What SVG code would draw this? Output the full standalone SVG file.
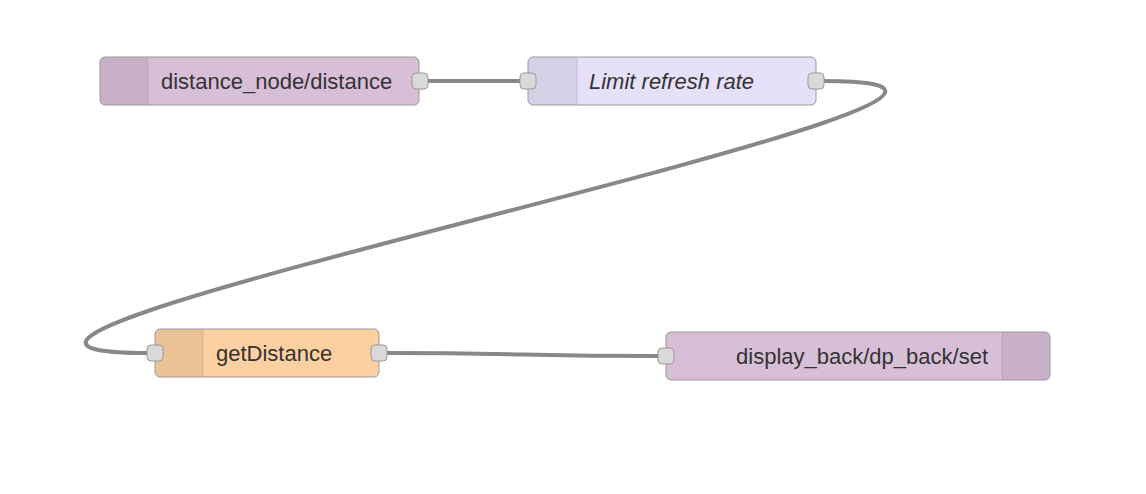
<svg xmlns="http://www.w3.org/2000/svg" width="1146" height="494" viewBox="0 0 1146 494">
<style>
.node{stroke:#999;stroke-width:1}
.icon{stroke:none;fill:#000;fill-opacity:0.07}
.div{stroke:#000;stroke-opacity:0.1;stroke-width:1}
.port{fill:#d9d9d9;stroke:#999;stroke-width:1}
.lbl{font-family:"Liberation Sans",Arial,sans-serif;font-size:22px;fill:#333}
.wire{fill:none;stroke:#888;stroke-width:4}
</style>
<rect width="1146" height="494" fill="#fff"/>
<g id="connectors">
<path class="wire" d="M427 81 L521 81"/>
<path class="wire" d="M823 81 C1193 81 -222 353 148 353"/>
<path class="wire" d="M386 353 C520 353 525 356 659 356"/>
</g>
<g id="node-mqtt-in">
<rect class="node" x="100" y="57" width="319" height="48" rx="5" fill="#d8bfd8"/>
<path class="icon" d="M105 57.5 H148 V104.5 H105 A4.5 4.5 0 0 1 100.5 100 V62 A4.5 4.5 0 0 1 105 57.5 Z"/>
<line class="div" x1="148" y1="58" x2="148" y2="104"/>
<text class="lbl" x="161" y="89">distance_node/distance</text>
<rect class="port" x="412" y="73" width="16" height="16" rx="4"/>
</g>
<g id="node-delay">
<rect class="node" x="528" y="57" width="288" height="48" rx="5" fill="#e6e0f8"/>
<path class="icon" d="M533 57.5 H577 V104.5 H533 A4.5 4.5 0 0 1 528.5 100 V62 A4.5 4.5 0 0 1 533 57.5 Z"/>
<line class="div" x1="577" y1="58" x2="577" y2="104"/>
<text class="lbl" x="589" y="89" font-style="italic">Limit refresh rate</text>
<rect class="port" x="520" y="73" width="16" height="16" rx="4"/>
<rect class="port" x="808" y="73" width="16" height="16" rx="4"/>
</g>
<g id="node-function">
<rect class="node" x="155" y="329" width="224" height="48" rx="5" fill="#fdd0a2"/>
<path class="icon" d="M160 329.5 H203 V376.5 H160 A4.5 4.5 0 0 1 155.5 372 V334 A4.5 4.5 0 0 1 160 329.5 Z"/>
<line class="div" x1="203" y1="330" x2="203" y2="376"/>
<text class="lbl" x="216" y="361">getDistance</text>
<rect class="port" x="147" y="345" width="16" height="16" rx="4"/>
<rect class="port" x="371" y="345" width="16" height="16" rx="4"/>
</g>
<g id="node-mqtt-out">
<rect class="node" x="666" y="332" width="384" height="48" rx="5" fill="#d8bfd8"/>
<path class="icon" d="M1002 332.5 H1045 A4.5 4.5 0 0 1 1049.5 337 V375 A4.5 4.5 0 0 1 1045 379.5 H1002 Z"/>
<line class="div" x1="1002" y1="333" x2="1002" y2="379"/>
<text class="lbl" x="988" y="364" text-anchor="end">display_back/dp_back/set</text>
<rect class="port" x="658" y="348" width="16" height="16" rx="4"/>
</g>
</svg>
